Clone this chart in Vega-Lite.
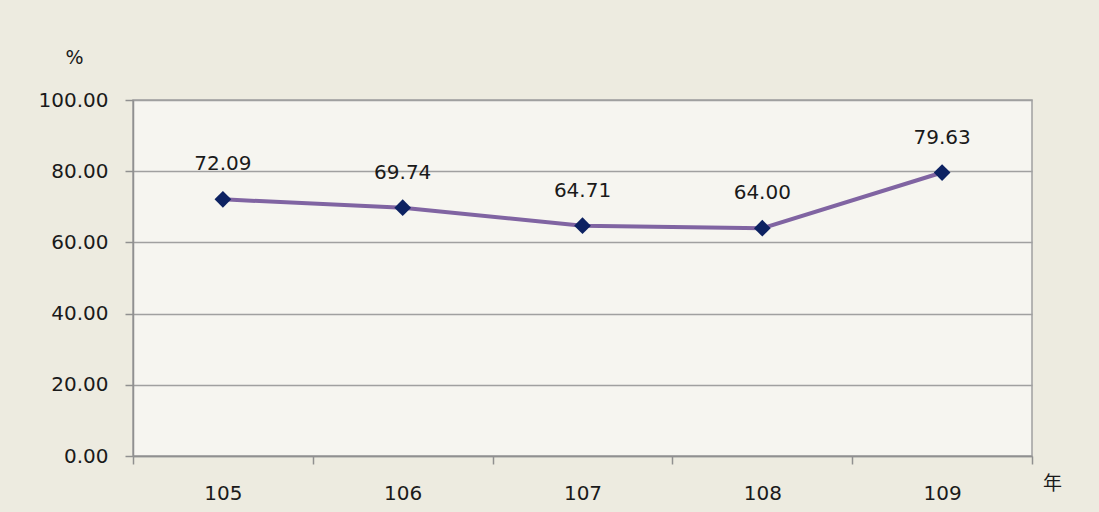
{
  "$schema": "https://vega.github.io/schema/vega-lite/v6.json",
  "autosize": "none",
  "width": 899,
  "height": 356,
  "padding": {"left": 133, "top": 100, "right": 67, "bottom": 56},
  "background": "#EDEBE0",
  "config": {
    "view": {"fill": "#F6F5F0", "stroke": "#A0A0A0", "strokeWidth": 1.5},
    "font": "DejaVu Sans"
  },
  "data": {
    "values": [
      {"year": "105", "value": 72.09},
      {"year": "106", "value": 69.74},
      {"year": "107", "value": 64.71},
      {"year": "108", "value": 64.00},
      {"year": "109", "value": 79.63}
    ]
  },
  "encoding": {
    "x": {
      "field": "year", "type": "ordinal",
      "scale": {"paddingInner": 0, "paddingOuter": 0},
      "axis": {
        "title": "年", "titleX": 919, "titleY": 27, "titleAlign": "center", "titleBaseline": "middle",
        "titleFont": "Noto Sans CJK TC", "titleFontSize": 19, "titleFontWeight": "normal", "titleColor": "#1A1A1A",
        "labelAngle": 0, "labelFontSize": 20, "labelColor": "#1A1A1A", "labelPadding": 19,
        "tickBand": "extent", "tickSize": 8, "tickColor": "#909090", "tickWidth": 1.5,
        "domainColor": "#909090", "domainWidth": 1.5, "grid": false
      }
    },
    "y": {
      "field": "value", "type": "quantitative",
      "scale": {"domain": [0, 100], "nice": false, "zero": true},
      "axis": {
        "values": [0, 20, 40, 60, 80, 100], "format": ".2f",
        "title": "%", "titleAngle": 0, "titleX": -59, "titleY": -43, "titleAlign": "center", "titleBaseline": "middle",
        "titleFontSize": 19, "titleFontWeight": "normal", "titleColor": "#1A1A1A",
        "labelFontSize": 20, "labelColor": "#1A1A1A", "labelPadding": 17,
        "tickSize": 8, "tickColor": "#909090", "tickWidth": 1.5,
        "domainColor": "#909090", "domainWidth": 1.5,
        "grid": true, "gridColor": "#A0A0A0", "gridWidth": 1.5
      }
    }
  },
  "layer": [
    {"mark": {"type": "line", "color": "#8064A2", "strokeWidth": 4}},
    {"mark": {"type": "point", "shape": "diamond", "filled": true, "size": 280, "color": "#0D2262", "opacity": 1}},
    {"mark": {"type": "text", "dy": -35, "fontSize": 20, "color": "#1A1A1A"},
     "encoding": {"text": {"field": "value", "type": "quantitative", "format": ".2f"}}}
  ]
}
